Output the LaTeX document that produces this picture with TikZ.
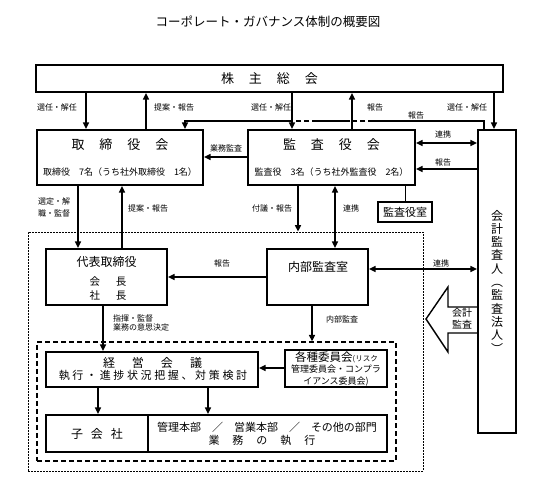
\documentclass[tikz,border=0pt]{standalone}
\usepackage{fontspec}
\setmainfont{Noto Sans CJK JP}
\usetikzlibrary{arrows.meta}
\newcommand{\myfs}[1]{\fontsize{#1}{#1}\selectfont}
\tikzset{
  box/.style={draw, line width=2.2pt, inner sep=0pt, fill=white},
  thinbox/.style={draw, line width=1.3pt, inner sep=0pt, fill=white},
  ln/.style={line width=1.4pt},
  arr/.style={line width=1.4pt, -{Triangle[length=6.5pt,width=6pt]}},
  darr/.style={line width=1.4pt, {Triangle[length=6.5pt,width=6pt]}-{Triangle[length=6.5pt,width=6pt]}},
  lbl/.style={inner sep=0pt, font=\myfs{8}},
  txt/.style={inner sep=0pt, align=center},
}
\begin{document}
\begin{tikzpicture}[x=1pt,y=-1pt]
\useasboundingbox (0,0) rectangle (536,486);
\fill[white] (0,0) rectangle (536,486);

% title
\node[txt, font=\myfs{12.5}] (title) at (268,22) {コーポレート・ガバナンス体制の概要図};

% dashed frames
\node[draw, line width=0.8pt, dash pattern=on 2pt off 1pt, minimum width=395pt, minimum height=239pt, inner sep=0pt] (outer) at (225.5,351.5) {};
\node[draw, line width=1.3pt, dash pattern=on 5pt off 3pt, minimum width=359pt, minimum height=119pt, inner sep=0pt] (inner) at (216.5,401.5) {};

% boxes
\node[box, minimum width=467pt, minimum height=27pt] (soukai) at (269.5,78.5) {};
\node[box, minimum width=166pt, minimum height=55pt] (torishimari) at (120,157.5) {};
\node[box, minimum width=167pt, minimum height=55pt] (kansa) at (331.5,157.5) {};
\node[box, minimum width=38pt, minimum height=303pt] (kaikei) at (497,281.5) {};
\node[thinbox, minimum width=54pt, minimum height=20pt] (kansashitsu) at (405,212) {};
\node[box, minimum width=121pt, minimum height=56pt] (daihyo) at (106.5,277) {};
\node[box, minimum width=101pt, minimum height=56pt] (naibu) at (317.5,277) {};
\node[box, minimum width=212pt, minimum height=35pt] (keiei) at (152,369.5) {};
\node[box, minimum width=102pt, minimum height=37pt] (iinkai) at (336,368.5) {};
\node[box, minimum width=102pt, minimum height=37pt] (kogaisha) at (97,433.5) {};
\node[box, minimum width=239pt, minimum height=37pt] (honbu) at (267.5,433.5) {};

% box texts
\node[txt, font=\myfs{13}] (soukaiT) at (269.5,78.5) {株\hspace{15pt}主\hspace{15pt}総\hspace{15pt}会};
\node[txt, font=\myfs{13}] (toriT1) at (120,145) {取\hspace{15pt}締\hspace{15pt}役\hspace{15pt}会};
\node[txt, font=\myfs{9}] (toriT2) at (120,172) {取締役　7名（うち社外取締役　1名）};
\node[txt, font=\myfs{13}] (kansaT1) at (331.5,145) {監\hspace{15pt}査\hspace{15pt}役\hspace{15pt}会};
\node[txt, font=\myfs{9}] (kansaT2) at (331.5,172) {監査役　3名（うち社外監査役　2名）};
\node[txt, font=\myfs{11}] (kansashitsuT) at (405,212) {監査役室};
\node[txt, font=\myfs{12}] (daihyoT1) at (106.5,262) {代表取締役};
\node[txt, font=\myfs{10.5}] (daihyoT2) at (108,282) {会\hspace{16pt}長};
\node[txt, font=\myfs{10.5}] (daihyoT3) at (108,296) {社\hspace{16pt}長};
\node[txt, font=\myfs{12}] (naibuT) at (318,267) {内部監査室};
\node[txt, font=\myfs{12}] (keieiT1) at (152.5,363) {経\hspace{17pt}営\hspace{17pt}会\hspace{17pt}議};
\node[txt, font={\myfs{11}\addfontfeature{LetterSpace=24}}] (keieiT2) at (153,375.5) {執行・進捗状況把握、対策検討};
\node[txt] (iinkaiT1) at (336.5,357) {{\myfs{11.5}各種委員会}{\myfs{7.5}(リスク}};
\node[txt, font=\myfs{9}] (iinkaiT2) at (336,369.5) {管理委員会・コンプラ};
\node[txt, font=\myfs{9}] (iinkaiT3) at (336,381.5) {イアンス委員会)};
\node[txt, font=\myfs{12}] (kogaishaT) at (97,434) {子\hspace{8pt}会\hspace{8pt}社};
\node[txt, font=\myfs{11}] (honbuT1) at (267,427) {管理本部　／　営業本部　／　その他の部門};
\node[txt, font=\myfs{11}] (honbuT2) at (262,440.5) {業\hspace{13pt}務\hspace{13pt}の\hspace{13pt}執\hspace{13pt}行};
\node[txt, font=\myfs{12}, align=center, execute at begin node={\baselineskip=13.3pt}] (kaikeiT) at (497,281.5) {会\\計\\監\\査\\人\\︵\\監\\査\\法\\人\\︶};

% helper x positions
\coordinate (x78) at (78,0);
\coordinate (x86) at (86,0);
\coordinate (x98) at (98,0);
\coordinate (x103) at (103,0);
\coordinate (x122) at (122,0);
\coordinate (x146) at (146,0);
\coordinate (x208) at (208,0);
\coordinate (x292) at (292,0);
\coordinate (x298) at (298,0);
\coordinate (x312) at (312,0);
\coordinate (x335) at (335,0);
\coordinate (x352) at (352,0);
\coordinate (x405) at (405,0);
\coordinate (x494) at (494,0);
\coordinate (y143) at (0,143);
\coordinate (y157) at (0,157);
\coordinate (y169) at (0,169);
\coordinate (y269) at (0,269);
\coordinate (y277) at (0,277);
\coordinate (y368) at (0,368);

% connectors from shareholders meeting
\draw[arr] (soukai.south -| x86) -- (torishimari.north -| x86);
\draw[arr] (torishimari.north -| x146) -- (soukai.south -| x146);
\draw[arr] (soukai.south -| x292) -- (kansa.north -| x292);
\draw[arr] (kansa.north -| x352) -- (soukai.south -| x352);
\draw[arr] (soukai.south -| x494) -- (kaikei.north -| x494);

% report line from auditor to board
\coordinate (h1) at (484,121);
\coordinate (h2) at (373,121);
\coordinate (h3) at (350,121);
\coordinate (h4) at (317,121);
\coordinate (h5) at (288,121);
\coordinate (h6) at (185,121);
\draw[ln] (kaikei.north -| h1) -- (h1) -- (h2);
\draw[ln, dash pattern=on 5pt off 3pt] (h2) -- (h3);
\draw[ln] (h3) -- (h4);
\draw[ln, dash pattern=on 5pt off 3pt] (h4) -- (h5);
\draw[arr] (h5) -- (h6) -- (torishimari.north -| h6);

% middle row
\draw[arr] (kansa.west |- y157) -- (torishimari.east |- y157);
\draw[darr] (kansa.east |- y143) -- (kaikei.west |- y143);
\draw[arr] (kaikei.west |- y169) -- (kansa.east |- y169);
\draw[line width=1pt] (kansa.south -| x405) -- (kansashitsu.north);

% down to executive level
\draw[arr] (torishimari.south -| x78) -- (daihyo.north -| x78);
\draw[arr] (daihyo.north -| x122) -- (torishimari.south -| x122);
\draw[arr] (kansa.south -| x298) -- (outer.north -| x298);
\draw[darr] (naibu.north -| x335) -- (kansa.south -| x335);
\draw[arr] (naibu.west |- y277) -- (daihyo.east |- y277);
\draw[darr] (naibu.east |- y269) -- (kaikei.west |- y269);

% lower part
\draw[arr] (daihyo.south -| x103) -- (keiei.north -| x103);
\draw[arr] (naibu.south -| x312) -- (inner.north -| x312);
\draw[arr] (iinkai.west |- y368) -- (keiei.east |- y368);
\draw[arr] (keiei.south -| x98) -- (kogaisha.north -| x98);
\draw[arr] (keiei.south -| x208) -- (honbu.north -| x208);

% accounting audit block arrow
\draw[line width=1.4pt, fill=white, line join=miter] (kaikei.west |- 0,307) -- (448,307) -- (448,287) -- (426,319) -- (448,352) -- (448,333) -- (kaikei.west |- 0,333);
\node[txt, font=\myfs{10}, execute at begin node={\baselineskip=12pt}] (kaikeikansa) at (462,319) {会計\\監査};

% labels
\node[lbl] (l1) at (57,107) {選任・解任};
\node[lbl] (l2) at (174,107) {提案・報告};
\node[lbl] (l3) at (271,107) {選任・解任};
\node[lbl] (l4) at (375,107) {報告};
\node[lbl] (l5) at (467,107) {選任・解任};
\node[lbl] (l6) at (416,115) {報告};
\node[lbl] (l7) at (226,148) {業務監査};
\node[lbl] (l8) at (443,134) {連携};
\node[lbl] (l9) at (443,162) {報告};
\node[lbl, align=left, execute at begin node={\baselineskip=12pt}] (l10) at (54,207) {選定・解\\職・監督};
\node[lbl] (l11) at (148,208) {提案・報告};
\node[lbl] (l12) at (272,208) {付議・報告};
\node[lbl] (l13) at (351,208) {連携};
\node[lbl] (l14) at (222,263) {報告};
\node[lbl] (l15) at (441,263) {連携};
\node[lbl, anchor=west, align=left, execute at begin node={\baselineskip=9.5pt}] (l16) at (113,323) {指揮・監督\\業務の意思決定};
\node[lbl] (l17) at (342,319) {内部監査};
\end{tikzpicture}
\end{document}
